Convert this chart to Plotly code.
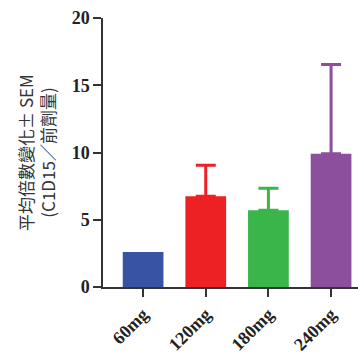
import plotly.graph_objects as go

categories = ["60mg", "120mg", "180mg", "240mg"]
means = [2.6, 6.75, 5.7, 9.9]
sem = [0.0, 2.3, 1.65, 6.65]
colors = ["#3953A4", "#ED2024", "#39B54A", "#8B4F9E"]
yticks = [0, 5, 10, 15, 20]

fig = go.Figure()
for c, m, e, col in zip(categories, means, sem, colors):
    fig.add_trace(go.Bar(
        x=[c], y=[m], marker=dict(color=col, line=dict(width=0)),
        width=0.65,
        error_y=dict(type="data", array=[e], arrayminus=[0], symmetric=False,
                     visible=e > 0, color=col, thickness=3, width=10),
        showlegend=False,
    ))

fig.update_layout(
    width=358, height=355,
    margin=dict(l=103, r=0, t=18, b=68),
    plot_bgcolor="white", paper_bgcolor="white",
    bargap=0.35,
    xaxis=dict(
        range=[-0.64, 3.43], showline=True, linecolor="#333", linewidth=1.5,
        ticks="outside", ticklen=8, tickwidth=1.5, tickcolor="#333",
        tickangle=-45, automargin=False,
        tickfont=dict(family="Liberation Serif", size=18, color="#222", weight="bold"),
        showgrid=False, zeroline=False,
    ),
    yaxis=dict(
        range=[0, 20], tickvals=yticks, showline=True, linecolor="#333", linewidth=1.5,
        ticks="outside", ticklen=8, tickwidth=1.5, tickcolor="#333",
        automargin=False,
        tickfont=dict(family="Liberation Serif", size=18, color="#222", weight="bold"),
        showgrid=False, zeroline=False,
        title=dict(text="平均倍數變化± SEM<br>(C1D15／前劑量)",
                   font=dict(family="Noto Sans CJK TC", size=17, color="#333"),
                   standoff=12),
    ),
)
fig.write_html("out.html")
